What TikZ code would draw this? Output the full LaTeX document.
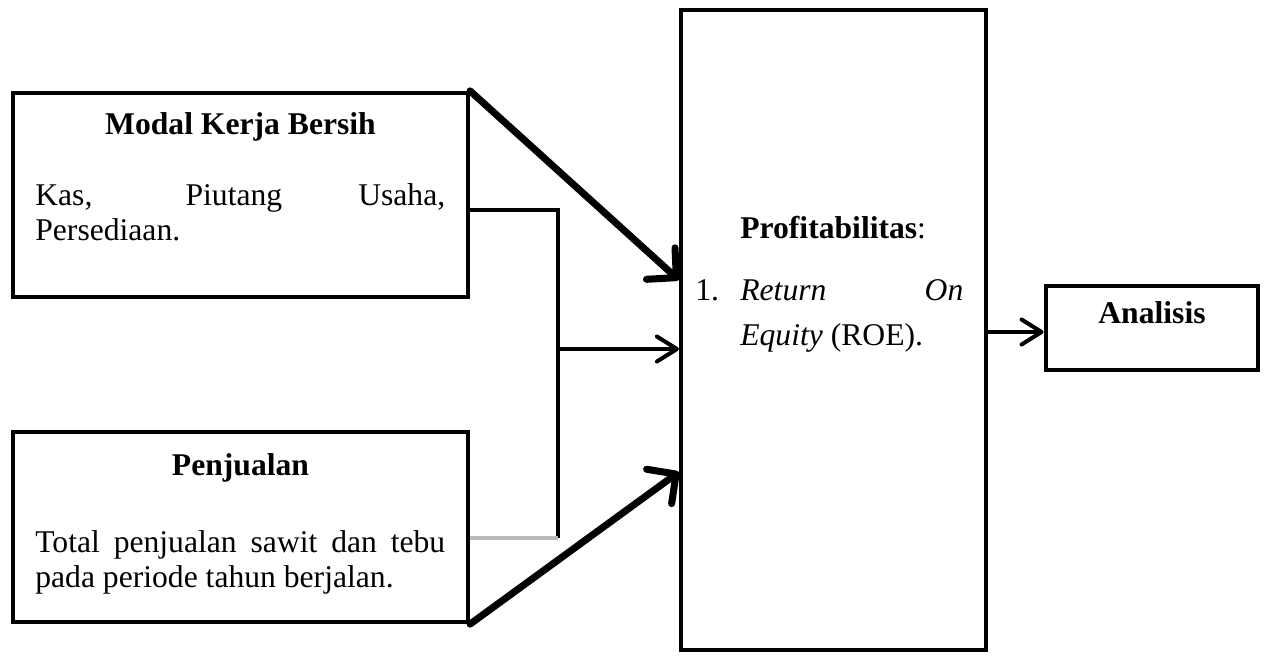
\documentclass[tikz,border=0pt]{standalone}
\usepackage{fontspec}
\setmainfont{Liberation Serif}
\usetikzlibrary{arrows.meta, positioning}
\tikzset{
  framebox/.style={
    draw, line width=2.4pt, fill=white, inner sep=0pt
  },
  boxtitle/.style={
    font=\fontsize{18}{20}\selectfont\bfseries, inner sep=0pt
  },
  boxtext/.style={
    font=\fontsize{18}{20}\selectfont, inner sep=0pt, text width=8.2cm,
    align=justify
  },
  itemtext/.style={
    font=\fontsize{18}{25.6}\selectfont, inner sep=0pt, text width=4.46cm,
    align=justify
  },
  flowarrow/.style={
    -{Straight Barb[length=0.42cm, width=0.85cm, round]}, line width=4pt,
    line cap=round, line join=round
  },
  linkarrow/.style={
    -{Straight Barb[length=0.4cm, width=0.5cm, round]}, line width=2.3pt,
    line cap=round, line join=round
  },
  linkline/.style={line width=2.3pt},
}
\begin{document}
\begin{tikzpicture}[x=0.02cm, y=-0.02cm]
  \useasboundingbox (0,0) rectangle (1264,656);

  % ── Input boxes ────────────────────────────────────────────────
  \node[framebox, minimum width=9.1cm, minimum height=4.08cm]
    (modal) at (240.5,195) {};
  \node[boxtitle, anchor=base] (modaltitle) at (240.5,134)
    {Modal Kerja Bersih};
  \node[boxtext, anchor=north west] (modaltext) at (35,180.3)
    {\strut Kas, Piutang Usaha,\linebreak Persediaan.};

  \node[framebox, minimum width=9.1cm, minimum height=3.8cm]
    (penjualan) at (240.5,527) {};
  \node[boxtitle, anchor=base] (penjualantitle) at (240.5,475)
    {Penjualan};
  \node[boxtext, anchor=north west] (penjualantext) at (35,527.3)
    {\strut Total penjualan sawit dan tebu\linebreak
     pada periode tahun berjalan.};

  % ── Profitabilitas ─────────────────────────────────────────────
  \node[framebox, minimum width=6.1cm, minimum height=12.8cm]
    (profit) at (833.5,330) {};
  \node[boxtitle, anchor=base west] (profittitle) at (740,238)
    {Profitabilitas\mdseries:};
  \node[font=\fontsize{18}{20}\selectfont, inner sep=0pt, anchor=base west]
    (itemnum) at (695,300) {1.};
  \node[itemtext, anchor=north west] (itemroe) at (740,268.5)
    {\strut\emph{Return} \emph{On}\linebreak \emph{Equity} (ROE).};

  % ── Analisis ───────────────────────────────────────────────────
  \node[framebox, line width=2.8pt, minimum width=4.24cm, minimum height=1.68cm]
    (analisis) at (1152,328) {};
  \node[boxtitle, anchor=base] (analisistitle) at (1152,323) {Analisis};

  % ── Connectors ─────────────────────────────────────────────────
  \coordinate (merge) at (558,349);
  \draw[linkline] (modal.east |- 0,210) -| (558,538) coordinate (jointlow);
  \draw[linkline, gray!55] (jointlow) -- (penjualan.east |- jointlow);
  \draw[linkarrow] (merge) -- (profit.west |- merge);

  \draw[flowarrow] (modal.north east) -- (profit.west |- 0,280);
  \draw[flowarrow] (penjualan.south east) -- (profit.west |- 0,472);

  \draw[linkarrow] (profit.east |- 0,332) -- (analisis.west |- 0,332);
\end{tikzpicture}
\end{document}
